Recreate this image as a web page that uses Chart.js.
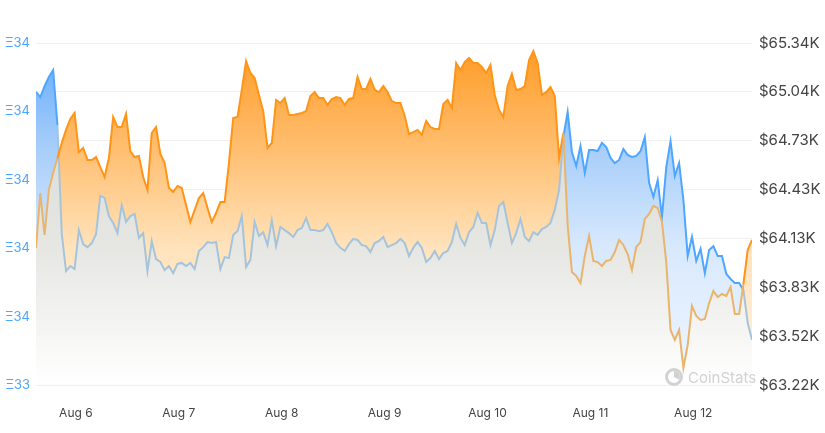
<!DOCTYPE html>
<html>
<head>
<meta charset="utf-8">
<script src="https://cdn.jsdelivr.net/npm/chart.js@4.4.1/dist/chart.umd.min.js"></script>
<style>
  html, body { margin: 0; padding: 0; background: #fff; }
  #wrap { width: 825px; height: 433px; }
</style>
</head>
<body>
<div id="wrap"><canvas id="chart"></canvas></div>
<script>
  // x axis: one sample per hour, first day label sits 9.3 h after the first sample
  const dayLabels = ["Aug 6", "Aug 7", "Aug 8", "Aug 9", "Aug 10", "Aug 11", "Aug 12"];
  const firstDayTick = 9.3;

  const ethTicks = [33.45, 33.65, 33.85, 34.05, 34.25, 34.45];
  const usdTicks = [63220, 63523, 63826, 64129, 64431, 64734, 65037, 65340];

  // price in ETH (left axis)
  const ethValues = [
    34.307, 34.292, 34.324, 34.351, 34.371, 34.210, 33.894, 33.783, 33.798, 33.789,
    33.903, 33.862, 33.853, 33.865, 33.891, 34.003, 33.997, 33.944, 33.924, 33.894,
    33.976, 33.927, 33.944, 33.950, 33.880, 33.894, 33.783, 33.871, 33.818, 33.810,
    33.786, 33.798, 33.777, 33.804, 33.807, 33.798, 33.807, 33.789, 33.842, 33.853,
    33.868, 33.865, 33.868, 33.789, 33.824, 33.821, 33.889, 33.900, 33.944, 33.795,
    33.816, 33.927, 33.886, 33.897, 33.859, 33.932, 33.856, 33.912, 33.903, 33.894,
    33.883, 33.903, 33.909, 33.938, 33.903, 33.903, 33.900, 33.903, 33.921, 33.897,
    33.865, 33.851, 33.842, 33.862, 33.877, 33.874, 33.859, 33.856, 33.839, 33.865,
    33.871, 33.883, 33.853, 33.859, 33.865, 33.877, 33.865, 33.827, 33.851, 33.868,
    33.851, 33.810, 33.821, 33.842, 33.818, 33.836, 33.842, 33.868, 33.921, 33.880,
    33.859, 33.897, 33.912, 33.953, 33.924, 33.924, 33.859, 33.903, 33.973, 33.985,
    33.924, 33.865, 33.894, 33.935, 33.883, 33.871, 33.897, 33.889, 33.906, 33.912,
    33.924, 33.962, 34.020, 34.175, 34.248, 34.131, 34.090, 34.149, 34.070, 34.137,
    34.137, 34.134, 34.158, 34.146, 34.114, 34.099, 34.108, 34.140, 34.123, 34.117,
    34.120, 34.134, 34.175, 34.041, 34.000, 34.049, 33.941, 34.087, 34.163, 34.061,
    34.099, 33.991, 33.827, 33.883, 33.813, 33.848, 33.777, 33.845, 33.856, 33.827,
    33.827, 33.775, 33.760, 33.748, 33.748, 33.728, 33.631, 33.582
  ];

  // price in USD (right axis)
  const usdValues = [
    64069, 64410, 64150, 64429, 64534, 64627, 64720, 64801, 64869, 64906,
    64664, 64689, 64615, 64615, 64633, 64571, 64509, 64627, 64881, 64819,
    64819, 64900, 64670, 64633, 64640, 64509, 64429, 64782, 64819, 64652,
    64596, 64441, 64416, 64454, 64441, 64336, 64230, 64305, 64379, 64410,
    64317, 64230, 64286, 64354, 64354, 64596, 64875, 64881, 65049, 65228,
    65154, 65123, 65018, 64918, 64689, 64720, 64987, 64968, 64999, 64894,
    64894, 64900, 64906, 64918, 65011, 65036, 64999, 64999, 64956, 64993,
    65005, 64999, 64956, 64993, 64999, 65129, 65055, 65055, 65117, 65049,
    65036, 65073, 65036, 64980, 64968, 64968, 64887, 64776, 64788, 64801,
    64770, 64856, 64819, 64807, 64807, 64962, 64987, 64937, 65216, 65173,
    65222, 65247, 65216, 65216, 65191, 65154, 65204, 65018, 64925, 64881,
    65073, 65148, 65049, 65055, 65073, 65235, 65290, 65216, 65018, 65036,
    65067, 65011, 64627, 64782, 64212, 63920, 63896, 63852, 64020, 64144,
    63989, 63982, 63958, 63989, 63995, 64044, 64119, 64088, 64032, 63933,
    64075, 64106, 64249, 64280, 64330, 64317, 64230, 63982, 63561, 63499,
    63561, 63325, 63468, 63710, 63648, 63623, 63629, 63728, 63803, 63765,
    63784, 63772, 63827, 63660, 63660, 63846, 64057, 64119
  ];

  const hours = usdValues.map(function (v, i) { return i; });

  const ctx = document.getElementById("chart").getContext("2d");

  function makeGradient(stops) {
    const g = ctx.createLinearGradient(0, 43, 0, 385);
    stops.forEach(function (s) { g.addColorStop(s[0], s[1]); });
    return g;
  }
  const orangeFill = makeGradient([[0, "#ff9a22"], [0.3, "#ffbd6e"], [0.6, "#ffe3bc"], [1, "#fff3e3"]]);
  const blueFill = makeGradient([[0, "#5ea9fb"], [0.3, "#a6cdfa"], [0.6, "#d8e9fd"], [1, "#f0f6ff"]]);
  const greyFill = makeGradient([[0, "#cfd3d0"], [0.3, "#dcdeda"], [0.6, "#e6e7e3"], [1, "#ffffff"]]);

  // a line looks faded where it runs below the other one
  function segColor(other, bright, muted) {
    return function (c) {
      const pts = c.chart.getDatasetMeta(other).data;
      const a = pts[c.p0DataIndex], b = pts[c.p1DataIndex];
      if (!a || !b) return bright;
      return (c.p0.y + c.p1.y) / 2 > (a.y + b.y) / 2 ? muted : bright;
    };
  }

  // CoinStats watermark
  const watermark = {
    id: "watermark",
    afterDraw: function (chart) {
      const c = chart.ctx;
      c.save();
      c.strokeStyle = "#d2d2d2";
      c.fillStyle = "#d2d2d2";
      c.lineWidth = 3;
      c.beginPath();
      c.arc(674, 377, 7.5, 0, Math.PI * 2);
      c.stroke();
      c.beginPath();
      c.moveTo(674, 377);
      c.arc(674, 377, 6, -Math.PI / 2, Math.PI * 0.15);
      c.closePath();
      c.fill();
      c.font = "15px Inter";
      c.textBaseline = "middle";
      c.fillText("CoinStats", 688, 378);
      c.restore();
    },
  };

  new Chart(ctx, {
    type: "line",
    data: {
      labels: hours,
      datasets: [
        // lines (drawn on top)
        {
          data: usdValues,
          yAxisID: "yUsd",
          borderColor: "#ff9416",
          borderWidth: 2,
          fill: false,
          segment: { borderColor: segColor(1, "#ff9416", "#e9b46c") },
        },
        {
          data: ethValues,
          yAxisID: "yEth",
          borderColor: "#4da6ff",
          borderWidth: 2,
          fill: false,
          segment: { borderColor: segColor(0, "#4da6ff", "#a5c4dc") },
        },
        // areas
        {
          data: usdValues,
          yAxisID: "yUsd",
          borderWidth: 0,
          borderColor: "rgba(0,0,0,0)",
          fill: { target: 3, above: orangeFill, below: blueFill },
        },
        {
          data: ethValues,
          yAxisID: "yEth",
          borderWidth: 0,
          borderColor: "rgba(0,0,0,0)",
          backgroundColor: greyFill,
          fill: "start",
        },
      ],
    },
    options: {
      responsive: true,
      maintainAspectRatio: false,
      animation: false,
      events: [],
      layout: { padding: { top: 43, bottom: 0, left: 0, right: 0 } },
      elements: { point: { radius: 0 }, line: { tension: 0 } },
      plugins: {
        legend: { display: false },
        tooltip: { enabled: false },
        filler: { drawTime: "beforeDatasetsDraw" },
      },
      scales: {
        x: {
          type: "linear",
          min: 0,
          max: hours.length - 1,
          grid: { display: false, drawTicks: false },
          border: { display: false },
          afterBuildTicks: function (scale) {
            scale.ticks = dayLabels.map(function (l, k) { return { value: firstDayTick + 24 * k }; });
          },
          afterFit: function (scale) { scale.height = 48; },
          ticks: {
            autoSkip: false,
            maxRotation: 0,
            padding: 21,
            color: "#444",
            font: { family: "Inter", size: 12 },
            callback: function (v, i) { return dayLabels[i]; },
          },
        },
        yEth: {
          position: "left",
          min: 33.45,
          max: 34.45,
          grid: { display: false, drawTicks: false },
          border: { display: false },
          afterBuildTicks: function (scale) {
            scale.ticks = ethTicks.map(function (v) { return { value: v }; });
          },
          afterFit: function (scale) { scale.width = 36; },
          ticks: {
            padding: 6,
            color: "#4da6ff",
            font: { family: "Inter", size: 13 },
            callback: function (v) { return "Ξ" + Math.round(v); },
          },
        },
        yUsd: {
          position: "right",
          min: 63220,
          max: 65340,
          grid: { color: "#f0f0f0", drawTicks: false },
          border: { display: false },
          afterBuildTicks: function (scale) {
            scale.ticks = usdTicks.map(function (v) { return { value: v }; });
          },
          afterFit: function (scale) { scale.width = 73; },
          ticks: {
            padding: 7,
            color: "#444",
            font: { family: "Inter", size: 15 },
            callback: function (v) { return "$" + (v / 1000).toFixed(2) + "K"; },
          },
        },
      },
    },
    plugins: [watermark],
  });
</script>
</body>
</html>
